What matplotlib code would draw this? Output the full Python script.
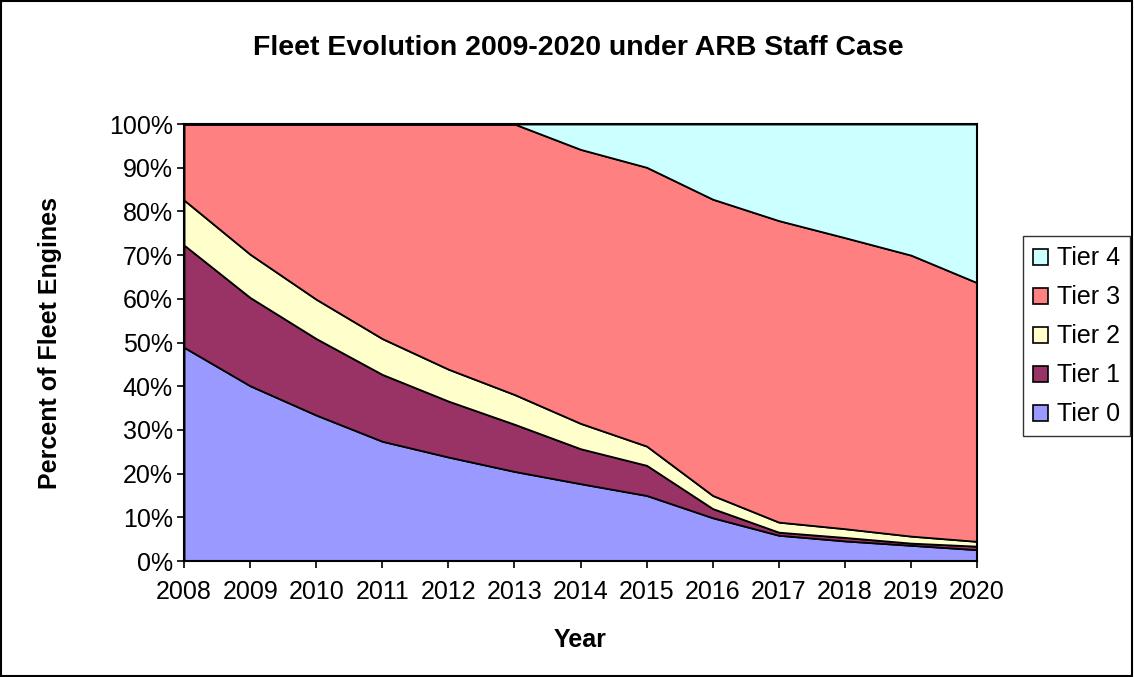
import matplotlib
matplotlib.use("Agg")
import matplotlib.pyplot as plt
from matplotlib.patches import Rectangle, Patch
from matplotlib.ticker import FuncFormatter

plt.rcParams['font.family'] = ['Liberation Sans', 'DejaVu Sans']

years = [2008, 2009, 2010, 2011, 2012, 2013, 2014, 2015, 2016, 2017, 2018, 2019, 2020]
tier0 = [48.9, 40.1, 33.4, 27.4, 23.8, 20.5, 17.7, 15.0, 9.9, 5.9, 4.6, 3.6, 2.6]
tier1 = [23.4, 20.2, 17.5, 15.3, 12.8, 10.8, 8.0, 6.9, 2.1, 0.7, 0.8, 0.5, 0.8]
tier2 = [10.3, 9.9, 9.0, 8.2, 7.3, 6.8, 5.8, 4.4, 3.0, 2.3, 2.0, 1.6, 1.1]
tier3 = [17.4, 29.8, 40.1, 49.1, 56.1, 61.9, 62.7, 63.8, 67.8, 69.0, 66.6, 64.3, 59.2]
tier4 = [0, 0, 0, 0, 0, 0, 5.8, 9.9, 17.2, 22.1, 26.0, 30.0, 36.3]

names = ['Tier 0', 'Tier 1', 'Tier 2', 'Tier 3', 'Tier 4']
colors = ['#9999FF', '#993366', '#FFFFCC', '#FF8080', '#CCFFFF']

fig = plt.figure(figsize=(11.34, 6.77), dpi=100)
ax = fig.add_axes([0.1623, 0.1713, 0.6993, 0.6455])

ax.stackplot(years, tier0, tier1, tier2, tier3, tier4, colors=colors,
             edgecolor='black', linewidth=1.3)

ax.set_xlim(2008, 2020)
ax.set_ylim(0, 100)
ax.set_xticks(years)
ax.set_yticks(range(0, 101, 10))
ax.yaxis.set_major_formatter(FuncFormatter(lambda v, p: '%d%%' % v))
ax.tick_params(labelsize=18, length=5, width=1.2, direction='out')
ax.tick_params(axis='x', pad=9)
ax.tick_params(axis='y', pad=3)
for s in ax.spines.values():
    s.set_linewidth(1.5)
    s.set_color('black')

ax.set_xlabel('Year', fontsize=18, fontweight='bold', labelpad=17)
ax.set_ylabel('Percent of Fleet Engines', fontsize=18, fontweight='bold', labelpad=34)

fig.text(0.51, 0.929, 'Fleet Evolution 2009-2020 under ARB Staff Case',
         ha='center', va='center', fontsize=20.5, fontweight='bold')

handles = [Patch(facecolor=c, edgecolor='black', linewidth=1.2) for c in colors]
leg = fig.legend(handles[::-1], names[::-1], loc='center left',
                 bbox_to_anchor=(0.902, 0.503), fontsize=18, frameon=True,
                 fancybox=False, handlelength=0.6, handleheight=0.6,
                 handletextpad=0.35, labelspacing=0.6, borderpad=0.4,
                 borderaxespad=0)
leg.get_frame().set_edgecolor('black')
leg.get_frame().set_linewidth(1.0)

fig.patches.append(Rectangle((0.001, 0.002), 0.997, 0.996, transform=fig.transFigure,
                             fill=False, edgecolor='black', linewidth=1.5))

fig.savefig('out.png', dpi=100)
